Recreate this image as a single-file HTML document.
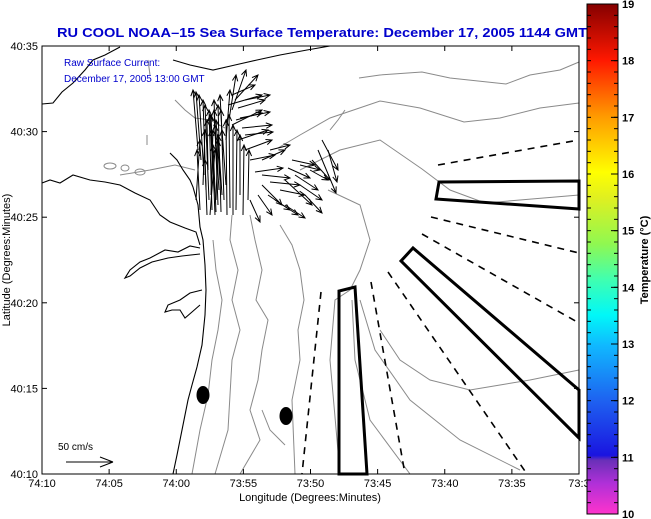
<!DOCTYPE html>
<html><head><meta charset="utf-8">
<style>
html,body{margin:0;padding:0;background:#fff;width:651px;height:519px;overflow:hidden}
svg{display:block;font-family:"Liberation Sans",sans-serif}
</style></head>
<body>
<svg id="map" width="651" height="519" viewBox="0 0 651 519">
<defs>
<linearGradient id="cbar" x1="0" y1="1" x2="0" y2="0">
<stop offset="0" stop-color="#ff33cc"/>
<stop offset="0.06" stop-color="#b030d8"/>
<stop offset="0.105" stop-color="#6a30b8"/>
<stop offset="0.115" stop-color="#1a14e0"/>
<stop offset="0.22" stop-color="#1e60f0"/>
<stop offset="0.33" stop-color="#10b8ff"/>
<stop offset="0.39" stop-color="#00f8f8"/>
<stop offset="0.46" stop-color="#40ffb0"/>
<stop offset="0.53" stop-color="#90f850"/>
<stop offset="0.62" stop-color="#e0f020"/>
<stop offset="0.67" stop-color="#ffff00"/>
<stop offset="0.78" stop-color="#ff9a00"/>
<stop offset="0.89" stop-color="#ff1800"/>
<stop offset="1" stop-color="#850000"/>
</linearGradient>
</defs>

<text x="322" y="37" font-size="12.5" font-weight="bold" fill="#0000cc" text-anchor="middle" textLength="530" lengthAdjust="spacingAndGlyphs">RU COOL   NOAA–15  Sea Surface Temperature:  December 17, 2005 1144 GMT</text>

<g id="plot">
<g id="gray-contours" fill="none" stroke="#8a8a8a" stroke-width="1">
<path d="M359,78 L380,75 L422,72 L450,78 L506,84 L530,75 L560,70 L579,62"/>
<path d="M278,148 L300,135 L330,118 L380,101 L420,108 L464,122 L500,118 L540,108 L579,103"/>
<path d="M300,170 L340,150 L380,140 L422,169 L450,190 L485,203 L520,200 L579,195"/>
<path d="M175,100 L185,110 L195,118 L210,120 L225,128"/>
<path d="M120,175 L150,170 L175,165 L195,170"/>
<path d="M213,240 L216,270 L222,300 L218,330 L212,360 L208,395 L200,430 L192,474"/>
<path d="M232,215 L230,240 L238,270 L232,300 L240,330 L232,360 L230,395 L228,430 L215,474"/>
<path d="M250,215 L255,240 L262,270 L256,300 L268,320 L262,350 L258,380 L250,410 L260,440 L240,474"/>
<path d="M280,225 L292,245 L300,270 L304,300 L298,330 L300,360 L292,400 L295,474"/>
<path d="M328,190 L360,205 L370,240 L360,270 L350,290 L335,300 L330,360 L340,474"/>
<path d="M352,300 L355,360 L370,420 L410,474"/>
<path d="M360,300 L375,350 L410,400 L460,440 L520,470"/>
<path d="M380,330 L400,360 L430,380 L470,390 L500,385 L530,380 L579,370"/>
<path d="M330,130 L338,120 L345,110"/>
<path d="M262,410 L270,430 L285,445"/>
<ellipse cx="110" cy="166" rx="6" ry="3"/><ellipse cx="125" cy="168" rx="4" ry="3"/><ellipse cx="140" cy="172" rx="5" ry="3"/>
<path d="M148,60 L150,75"/><path d="M147,135 L147,145"/>
</g>
<g id="coast" fill="none" stroke="#000" stroke-width="1.1">
<path d="M42,104 L53,103 L62,92 L73,83 L85,70 L93,60 L105,55 L120,47"/>
<path d="M173,60 L190,65 L213,70 L235,65 L257,60 L280,55 L307,50 L330,46"/>
<path d="M42,183 L50,180 L60,183 L73,175 L90,180 L105,182 L120,185 L135,193 L150,200 L160,215 L170,222 L185,228 L196,232 L200,245"/>
<path d="M170,153 L177,160 L183,170 L190,180 L193,187 L198,205 L200,227 L203,240 L205,265 L206,290 L205,315 L202,345 L197,367 L192,385 L188,400 L182,430 L177,455 L173,474"/>
<path d="M200,248 L190,246 L178,252 L165,250 L150,258 L140,262 L130,270 L125,278 L130,276 L140,268 L152,262 L168,258 L182,256 L200,254"/>
<path d="M202,290 L190,293 L180,300 L168,305 L165,312 L172,310 L180,310 L185,318 L192,312 L200,305"/>
</g>
<g id="shipping" fill="none" stroke="#000">
<polygon points="339,474 339,291 355,287 367,474" stroke-width="3"/>
<polygon points="579,438 401,261 413,248 579,390" stroke-width="3"/>
<polygon points="579,181 439,182 436,199 579,209" stroke-width="3"/>
<g stroke-width="1.6" stroke-dasharray="7,6">
<line x1="321" y1="292" x2="302" y2="474"/>
<line x1="371" y1="282" x2="405" y2="474"/>
<line x1="388" y1="272" x2="527" y2="474"/>
<line x1="422" y1="234" x2="579" y2="323"/>
<line x1="431" y1="217" x2="579" y2="253"/>
<line x1="438" y1="165" x2="579" y2="140"/>
</g>
</g>
<ellipse cx="203" cy="395" rx="6.5" ry="9" fill="#000"/>
<ellipse cx="286" cy="416" rx="6.5" ry="9" fill="#000"/>
<g id="arrows" stroke="#000" stroke-width="1" fill="none"></g>
<text x="64" y="66" font-size="10" fill="#0000cc">Raw Surface Current:</text>
<text x="64" y="82" font-size="10" fill="#0000cc">December 17, 2005 13:00 GMT</text>
<text x="58" y="450" font-size="10" fill="#000">50 cm/s</text>
<g stroke="#000" stroke-width="1">
<line x1="66" y1="462" x2="113" y2="462"/><line x1="113" y1="462" x2="100" y2="457"/><line x1="113" y1="462" x2="100" y2="467"/>
</g>
<rect x="42" y="46" width="537" height="428" fill="none" stroke="#000" stroke-width="1"/>
<g id="ticks" stroke="#000" stroke-width="1"></g>
</g>
<g id="labels" font-size="11" fill="#000"></g>
<text x="310" y="501" font-size="11" text-anchor="middle">Longitude (Degrees:Minutes)</text>
<text transform="translate(10,260) rotate(-90)" font-size="11" text-anchor="middle">Latitude (Degrees:Minutes)</text>

<g id="colorbar">
<rect x="587" y="4" width="31" height="510" fill="url(#cbar)" stroke="#000" stroke-width="1"/>
<g id="cticks" stroke="#000" stroke-width="1"></g>
<g id="clabels" font-size="11" font-weight="bold"></g>
<text transform="translate(648,260) rotate(-90)" font-size="11" font-weight="bold" text-anchor="middle">Temperature (°C)</text>
</g>
</svg>
<script>
const xTickLabels = ["74:10","74:05","74:00","73:55","73:50","73:45","73:40","73:35","73:3"];
const yTickLabels = ["40:35","40:30","40:25","40:20","40:15","40:10"];
const cTickValues = [10,11,12,13,14,15,16,17,18,19];
const arrowTails = [[198,150],[201,160],[204,175],[206,190],[209,200],[212,210],[215,215],[218,205],[221,212],[224,200],[227,215],[230,208],[233,215],[236,210],[240,195],[243,215],[248,200],[196,200],[200,210],[207,215],[214,190],[217,170],[220,180],[223,150],[226,140],[229,120],[232,110],[235,100],[232,125],[236,120],[240,118],[242,128],[245,135],[238,140],[245,150],[250,160],[255,172],[262,160],[270,150],[228,105],[232,95],[238,108],[245,100],[262,175],[270,182],[280,190],[288,168],[295,175],[300,185],[268,195],[275,200],[285,205],[258,195],[262,185],[292,160],[300,165],[310,170],[305,195],[250,200],[285,180],[322,140],[318,150],[312,160],[328,150],[211,195],[216,200],[219,190],[213,175],[208,170],[222,195],[226,185],[203,185],[210,215],[216,212]];
const arrowHeads = [[193,90],[196,92],[199,95],[203,100],[205,105],[209,110],[211,115],[214,100],[218,105],[221,110],[226,120],[229,115],[233,125],[237,130],[240,135],[244,145],[249,150],[200,140],[197,150],[205,160],[211,130],[214,110],[216,120],[220,95],[230,90],[236,75],[246,70],[258,75],[262,110],[262,113],[270,112],[272,125],[273,132],[268,130],[272,140],[275,155],[283,168],[285,150],[290,145],[262,95],[255,85],[265,100],[270,95],[290,178],[300,185],[305,195],[310,178],[318,190],[322,200],[290,210],[298,215],[305,218],[272,215],[282,205],[315,165],[320,170],[328,180],[322,213],[260,222],[312,205],[338,170],[336,193],[330,180],[337,182],[213,130],[218,140],[215,125],[210,115],[207,120],[218,135],[222,130],[205,130],[215,150],[213,145]];
const NS="http://www.w3.org/2000/svg";
const X0=42,X1=579,Y0=46,Y1=474;
function xPos(i){return X0+i*(X1-X0)/(xTickLabels.length-1);}
function yPos(i){return Y0+i*(Y1-Y0)/(yTickLabels.length-1);}
function cPos(v){return 514-(v-10)*(510/9);}
function mk(tag,attrs,parent){const e=document.createElementNS(NS,tag);for(const k in attrs)e.setAttribute(k,attrs[k]);parent.appendChild(e);return e;}
const tk=document.getElementById('ticks'),lb=document.getElementById('labels');
xTickLabels.forEach((s,i)=>{const x=xPos(i);
 const t1=mk('line',{x1:x,y1:Y1,x2:x,y2:Y1-5},tk);
 
 
 mk('line',{x1:x,y1:Y0,x2:x,y2:Y0+5},tk);
 const t=mk('text',{x:x,y:487,'text-anchor':'middle'},lb);
 
 
 t.textContent=s;});
yTickLabels.forEach((s,i)=>{const y=yPos(i);
 const t=mk('line',{x1:X0,y1:y,x2:X0+5,y2:y},tk);
 
 
 mk('line',{x1:X1,y1:y,x2:X1-5,y2:y},tk);
 const l=mk('text',{x:38,y:y+4,'text-anchor':'end'},lb);
 
 
 l.textContent=s;});
const ct=document.getElementById('cticks'),cl=document.getElementById('clabels');
cTickValues.forEach(v=>{const y=cPos(v);
 mk('line',{x1:611,y1:y,x2:618,y2:y},ct);
 const l=mk('text',{x:622,y:y+4},cl);
 
 
 l.textContent=v;});
for(let v=10.2;v<19;v+=0.2){const y=cPos(v);mk('line',{x1:587,y1:y,x2:591,y2:y},ct);mk('line',{x1:614,y1:y,x2:618,y2:y},ct);}
const ag=document.getElementById('arrows');
arrowTails.forEach((p,i)=>{const h=arrowHeads[i];const dx=h[0]-p[0],dy=h[1]-p[1];const L=Math.hypot(dx,dy);const ux=dx/L,uy=dy/L;const s=Math.min(6,L*0.3);
 const a=mk('path',{d:`M${p[0]},${p[1]} L${h[0]},${h[1]} M${h[0]-s*ux+s*0.45*uy},${h[1]-s*uy-s*0.45*ux} L${h[0]},${h[1]} L${h[0]-s*ux-s*0.45*uy},${h[1]-s*uy+s*0.45*ux}`},ag);
 
 });
</script>
</body></html>
